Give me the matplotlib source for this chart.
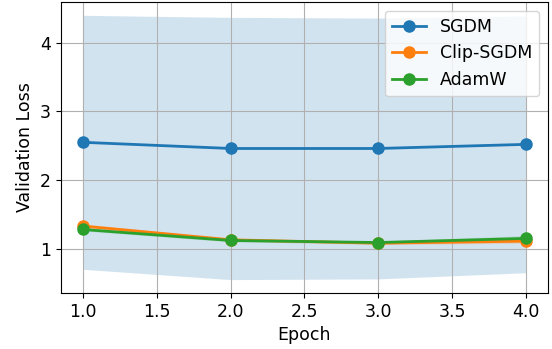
import matplotlib
matplotlib.use('Agg')
import matplotlib.pyplot as plt
from matplotlib.ticker import MultipleLocator
import numpy as np

epochs = [1, 2, 3, 4]
sgdm_mean = [2.55, 2.46, 2.46, 2.52]
sgdm_std = [1.85, 1.91, 1.90, 1.87]
clip_mean = [1.33, 1.13, 1.08, 1.11]
clip_std = [0.03, 0.02, 0.02, 0.03]
adamw_mean = [1.28, 1.12, 1.09, 1.15]
adamw_std = [0.02, 0.02, 0.02, 0.04]

series = [
    ('SGDM', sgdm_mean, sgdm_std),
    ('Clip-SGDM', clip_mean, clip_std),
    ('AdamW', adamw_mean, adamw_std),
]

plt.rcParams['font.size'] = 12.5

fig, ax = plt.subplots(figsize=(5.52, 3.49), dpi=100)
for name, mean, std in series:
    mean = np.array(mean)
    std = np.array(std)
    line, = ax.plot(epochs, mean, marker='o', label=name, linewidth=2, markersize=8)
    ax.fill_between(epochs, mean - std, mean + std, color=line.get_color(), alpha=0.2, linewidth=0)

ax.set_xlabel('Epoch')
ax.set_ylabel('Validation Loss')
ax.yaxis.set_major_locator(MultipleLocator(1))
ax.grid(True)
ax.legend(loc='upper right')
fig.subplots_adjust(left=0.110, right=0.993, top=0.994, bottom=0.161)
fig.savefig('out.png')
